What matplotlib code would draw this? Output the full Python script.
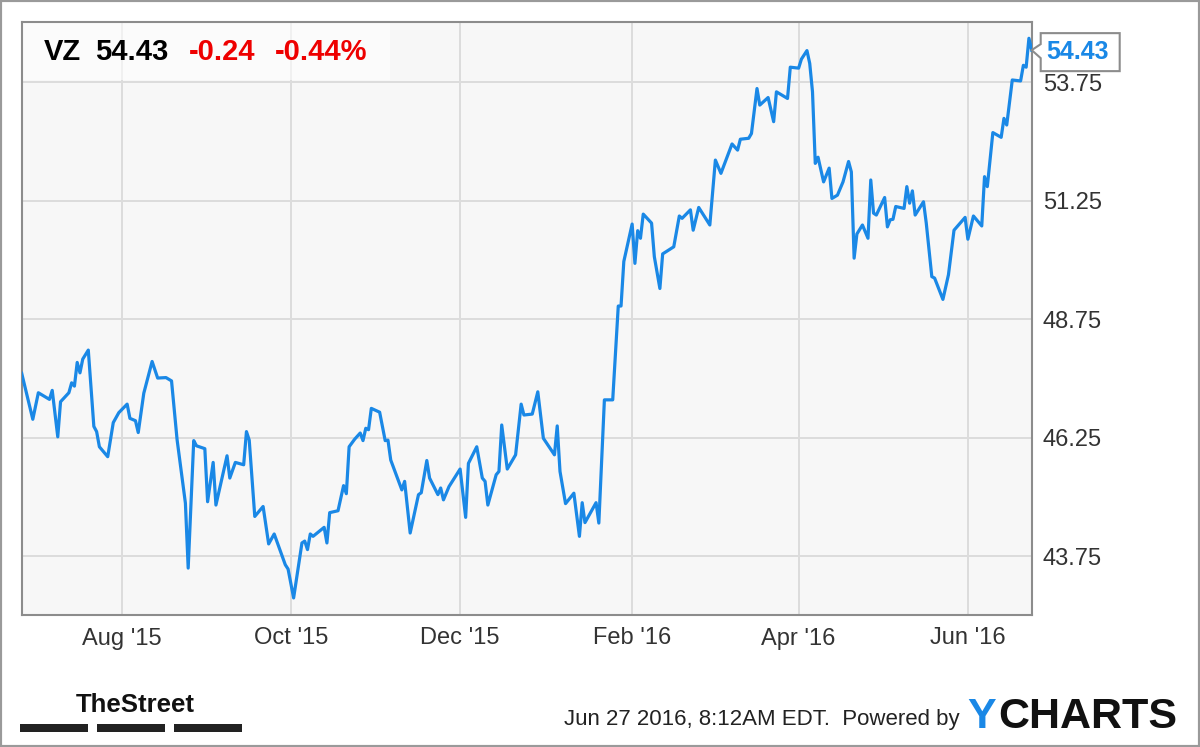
# VZ one-year price chart, YCharts style

import pandas as pd
import matplotlib.pyplot as plt
import matplotlib.dates as mdates
import matplotlib.transforms as mtransforms
from matplotlib.patches import Polygon, Rectangle

plt.rcParams['font.family'] = ['Liberation Sans', 'DejaVu Sans']

# closing prices, days counted from the first session
start_date = "2015-06-26"
day_offsets = [
    0, 4, 6, 10, 11, 13, 14, 17, 18, 19,
    20, 21, 22, 24, 26, 27, 28, 31, 33, 35,
    38, 39, 41, 42, 44, 47, 49, 52, 54, 56,
    59, 60, 62, 63, 66, 67, 69, 70, 74, 75,
    77, 80, 81, 82, 84, 87, 89, 91, 95, 96,
    98, 101, 102, 103, 104, 105, 109, 110, 111, 114,
    116, 117, 118, 120, 122, 123, 124, 125, 126, 129,
    131, 132, 133, 137, 138, 140, 143, 144, 146, 147,
    150, 151, 152, 154, 158, 160, 161, 164, 166, 167,
    168, 171, 172, 173, 175, 178, 180, 181, 184, 186,
    188, 192, 193, 194, 196, 199, 201, 202, 203, 207,
    208, 210, 213, 215, 216, 217, 220, 221, 222, 223,
    224, 227, 228, 230, 231, 235, 237, 238, 241, 242,
    244, 248, 250, 252, 256, 258, 259, 262, 263, 265,
    266, 269, 271, 272, 276, 277, 280, 281, 283, 284,
    285, 286, 287, 289, 291, 292, 294, 296, 298, 299,
    300, 301, 303, 305, 306, 307, 308, 311, 312, 313,
    314, 315, 318, 319, 320, 321, 322, 325, 326, 328,
    329, 332, 334, 336, 340, 341, 343, 346, 347, 348,
    350, 353, 354, 355, 357, 360, 361, 362, 363, 364,
]
close_prices = [
    47.61, 46.64, 47.20, 47.06, 47.25, 46.27, 47.01, 47.20, 47.41, 47.34,
    47.84, 47.62, 47.91, 48.10, 46.49, 46.38, 46.06, 45.85, 46.57, 46.78,
    46.96, 46.66, 46.61, 46.36, 47.19, 47.86, 47.51, 47.52, 47.45, 46.21,
    44.87, 43.50, 46.19, 46.08, 46.02, 44.90, 45.73, 44.83, 45.87, 45.40,
    45.73, 45.68, 46.38, 46.20, 44.59, 44.80, 44.01, 44.22, 43.57, 43.48,
    42.87, 44.03, 44.07, 43.89, 44.22, 44.17, 44.36, 44.03, 44.67, 44.71,
    45.24, 45.07, 46.06, 46.22, 46.35, 46.19, 46.45, 46.42, 46.87, 46.79,
    46.19, 46.20, 45.78, 45.15, 45.33, 44.24, 45.05, 45.09, 45.77, 45.40,
    45.05, 45.19, 44.94, 45.22, 45.59, 44.57, 45.71, 46.06, 45.40, 45.33,
    44.83, 45.47, 45.54, 46.52, 45.59, 45.89, 46.96, 46.73, 46.75, 47.22,
    46.24, 45.89, 46.50, 45.54, 44.86, 45.08, 44.17, 44.88, 44.46, 44.88,
    44.45, 47.05, 47.05, 49.03, 49.03, 49.97, 50.76, 49.93, 50.62, 50.46,
    50.97, 50.78, 50.07, 49.40, 50.13, 50.28, 50.93, 50.88, 51.06, 50.63,
    51.11, 50.74, 52.11, 51.83, 52.45, 52.32, 52.55, 52.57, 52.67, 53.62,
    53.27, 53.43, 52.92, 53.55, 53.41, 54.07, 54.05, 54.24, 54.42, 54.15,
    53.55, 52.04, 52.17, 51.65, 51.94, 51.30, 51.37, 51.65, 52.08, 51.86,
    50.04, 50.55, 50.74, 50.46, 51.69, 50.99, 50.95, 51.32, 50.70, 50.85,
    50.86, 51.13, 51.09, 51.55, 51.20, 51.46, 50.95, 51.23, 50.78, 49.65,
    49.62, 49.17, 49.69, 50.63, 50.90, 50.44, 50.93, 50.72, 51.76, 51.55,
    52.69, 52.59, 52.99, 52.85, 53.80, 53.78, 54.11, 54.07, 54.68, 54.43,
]

y_ticks = [43.75, 46.25, 48.75, 51.25, 53.75]
x_ticks = ["2015-08-01", "2015-10-01", "2015-12-01",
           "2016-02-01", "2016-04-01", "2016-06-01"]
x_tick_labels = ["Aug '15", "Oct '15", "Dec '15", "Feb '16", "Apr '16", "Jun '16"]

ticker = "VZ"
last_price = "54.43"
change = "-0.24"
change_pct = "-0.44%"
footer = "Jun 27 2016, 8:12AM EDT.  Powered by"

dates = pd.Timestamp(start_date) + pd.to_timedelta(day_offsets, unit="D")

W, H = 1200, 747
BLUE = "#1a88e6"
FRAME = "#8c8c8c"


def fx(px):
    return px / W


def fy(py):
    return 1 - py / H


fig = plt.figure(figsize=(W / 100, H / 100), dpi=100)
fig.patch.set_facecolor("white")

ax = fig.add_axes([fx(21.7), fy(615), fx(1031.7 - 21.7), (615 - 21.7) / H])
ax.set_facecolor("#f7f7f7")
ax.plot(dates, close_prices, color=BLUE, lw=2.3, zorder=3)

ax.set_xlim(dates[0], dates[-1])
ax.set_ylim(42.51, 55.03)

ax.set_xticks(pd.to_datetime(x_ticks))
ax.set_xticklabels(x_tick_labels)
ax.set_yticks(y_ticks)
ax.set_yticklabels([f"{v:.2f}" for v in y_ticks])
ax.yaxis.tick_right()
ax.tick_params(axis="both", length=0, labelsize=17, labelcolor="#333333")
ax.tick_params(axis="x", pad=9)
ax.tick_params(axis="y", pad=8)

ax.grid(True, color="#dcdcdc", lw=1.4)
ax.set_axisbelow(True)
for s in ax.spines.values():
    s.set_color(FRAME)
    s.set_linewidth(1.5)

# header box with quote
ax.add_patch(Rectangle((fx(22), fy(80)), fx(368), 58 / H, transform=fig.transFigure,
                       facecolor="white", alpha=0.6, edgecolor="none", zorder=1))
fig.text(fx(44), fy(60), ticker, fontsize=21, fontweight="bold", color="black")
fig.text(fx(95), fy(60), last_price, fontsize=21, fontweight="bold", color="black")
fig.text(fx(189), fy(60), change, fontsize=21, fontweight="bold", color="#ee0000")
fig.text(fx(275), fy(60), change_pct, fontsize=21, fontweight="bold", color="#ee0000")

# last-price flag on the right axis
fig.canvas.draw()
px, py = ax.transData.transform((mdates.date2num(dates[-1]), close_prices[-1]))
flag = [(0, 0), (9, 6), (9, 17), (88, 17), (88, -21), (9, -21), (9, -8)]
fig.patches.append(Polygon([(px + dx, py + dy) for dx, dy in flag], closed=True,
                           transform=mtransforms.IdentityTransform(),
                           facecolor="white", edgecolor=FRAME, lw=1.5, figure=fig))
fig.text((px + 15) / W, (py - 2) / H, last_price, fontsize=18, fontweight="bold",
         color=BLUE, ha="left", va="center")

# footer
fig.text(fx(76), fy(712), "TheStreet", fontsize=18.5, fontweight="bold",
         color="#111111")
for x0 in [20, 97, 174]:
    fig.patches.append(Rectangle((fx(x0), fy(732)), fx(68), 8 / H,
                                 transform=fig.transFigure, facecolor="#222222",
                                 edgecolor="none", figure=fig))
fig.text(fx(960), fy(725), footer, fontsize=16, color="#222222", ha="right")
fig.text(fx(967), fy(728), "Y", fontsize=31, fontweight="bold", color=BLUE)
fig.text(fx(1177), fy(728), "CHARTS", fontsize=31, fontweight="bold",
         color="#111111", ha="right")

# outer frame
fig.patches.append(Rectangle((0, 0), 1, 1, transform=fig.transFigure, fill=False,
                             edgecolor="#9a9a9a", lw=3, figure=fig))

fig.savefig("out.png", dpi=100)
